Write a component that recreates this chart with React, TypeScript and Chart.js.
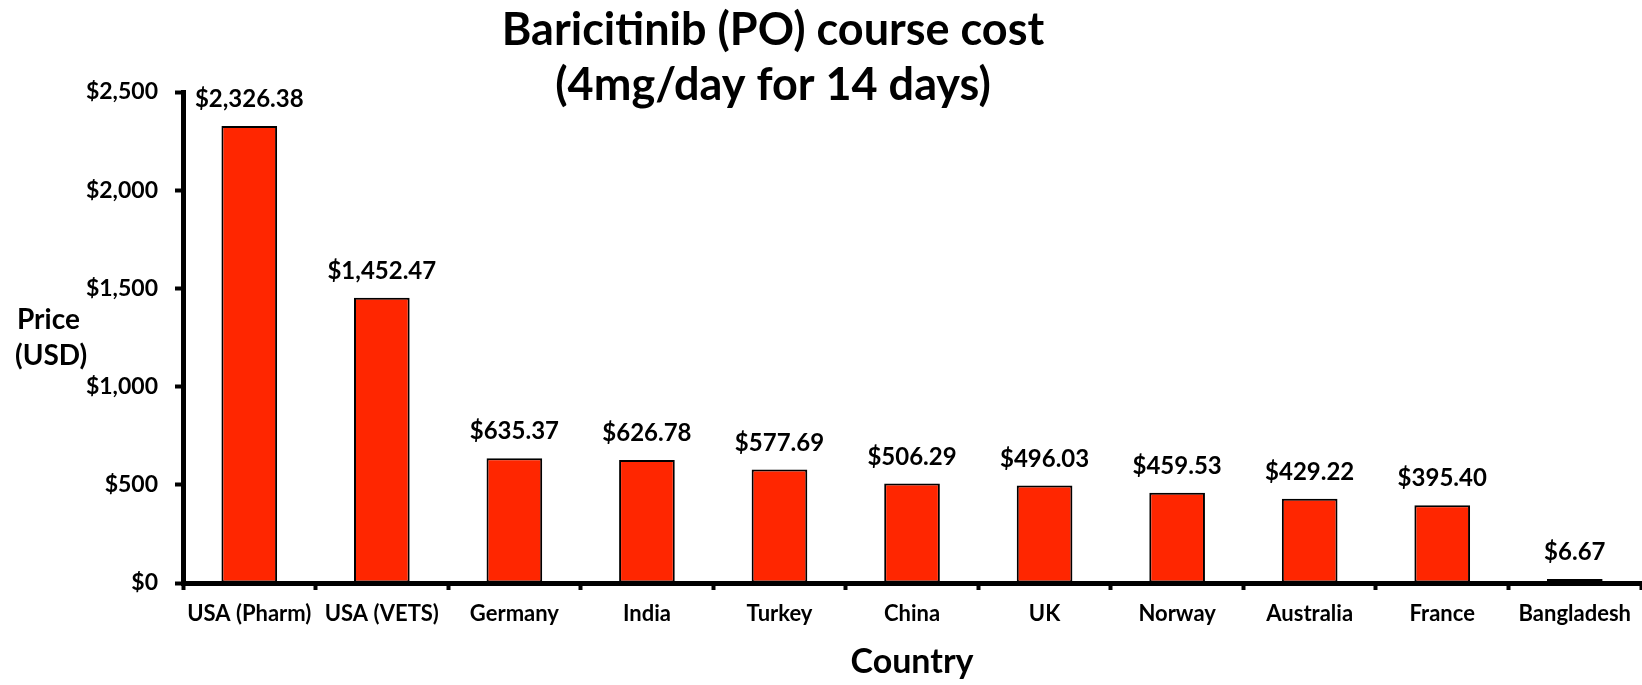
import React, { useEffect, useRef } from "react";
import { Chart, registerables } from "chart.js";

Chart.register(...registerables);

const categories = [
  "USA (Pharm)",
  "USA (VETS)",
  "Germany",
  "India",
  "Turkey",
  "China",
  "UK",
  "Norway",
  "Australia",
  "France",
  "Bangladesh",
];
const prices = [2326.38, 1452.47, 635.37, 626.78, 577.69, 506.29, 496.03, 459.53, 429.22, 395.4, 6.67];
const yTickValues = [0, 500, 1000, 1500, 2000, 2500];
const titleLines = ["Baricitinib (PO) course cost", "(4mg/day for 14 days)"];
const yTitleLines = ["Price", "(USD)"];
const xTitle = "Country";

const FONT = "Lato, 'Open Sans', sans-serif";
const W = 1642;
const H = 685;

const fmtMoney = (v: number) =>
  "$" + v.toLocaleString("en-US", { minimumFractionDigits: 2, maximumFractionDigits: 2 });
const fmtTick = (v: number) => "$" + v.toLocaleString("en-US");

const textPlugin = {
  id: "customText",
  afterDatasetsDraw(chart: any) {
    const ctx = chart.ctx;
    ctx.save();
    ctx.fillStyle = "#000";
    // data labels
    const meta = chart.getDatasetMeta(0);
    ctx.font = `bold 24px ${FONT}`;
    ctx.textAlign = "center";
    ctx.textBaseline = "alphabetic";
    meta.data.forEach((bar: any, i: number) => {
      ctx.fillText(fmtMoney(prices[i]), bar.x, bar.y - 19);
    });
    // main title
    ctx.font = `bold 45px ${FONT}`;
    ctx.textBaseline = "middle";
    ctx.fillText(titleLines[0], 773, 30);
    ctx.fillText(titleLines[1], 773, 85);
    // y title
    ctx.font = `bold 28px ${FONT}`;
    ctx.textAlign = "left";
    ctx.fillText(yTitleLines[0], 17, 320);
    ctx.fillText(yTitleLines[1], 15, 356);
    // x title
    const ca = chart.chartArea;
    ctx.font = `bold 34px ${FONT}`;
    ctx.textAlign = "center";
    ctx.fillText(xTitle, (ca.left + ca.right) / 2, 662);
    ctx.restore();
  },
};

export default function App() {
  const ref = useRef<HTMLCanvasElement | null>(null);
  useEffect(() => {
    if (!ref.current) return;
    const chart = new Chart(ref.current, {
      type: "bar",
      data: {
        labels: categories,
        datasets: [
          {
            data: prices,
            backgroundColor: "#FF2600",
            borderColor: "#000",
            borderWidth: 2,
            borderSkipped: false,
            barPercentage: 0.42,
            categoryPercentage: 1,
            minBarLength: 4,
          },
        ],
      },
      options: {
        animation: false,
        responsive: false,
        devicePixelRatio: 1,
        layout: { padding: { top: 92, left: 0, right: 0, bottom: 0 } },
        plugins: {
          legend: { display: false },
          tooltip: { enabled: false },
          title: { display: false },
        },
        scales: {
          x: {
            offset: true,
            grid: {
              display: true,
              drawOnChartArea: false,
              drawTicks: true,
              tickLength: 7,
              tickWidth: 4,
              tickColor: "#000",
              offset: true,
            },
            border: { display: true, color: "#000", width: 5 },
            ticks: {
              color: "#000",
              font: { family: FONT, size: 22, weight: "bold" },
              padding: 11,
              maxRotation: 0,
              autoSkip: false,
            },
            afterFit: (scale: any) => {
              scale.height = H - 583;
            },
          },
          y: {
            min: 0,
            max: 2500,
            afterBuildTicks: (scale: any) => {
              scale.ticks = yTickValues.map((v) => ({ value: v }));
            },
            grid: {
              display: true,
              drawOnChartArea: false,
              drawTicks: true,
              tickLength: 8,
              tickWidth: 4,
              tickColor: "#000",
            },
            border: { display: true, color: "#000", width: 5 },
            ticks: {
              color: "#000",
              font: { family: FONT, size: 23, weight: "bold" },
              padding: 17,
              callback: (v: any) => fmtTick(Number(v)),
            },
            afterFit: (scale: any) => {
              scale.width = 183;
            },
          },
        },
      },
      plugins: [textPlugin],
    });
    return () => chart.destroy();
  }, []);
  return (
    <div style={{ position: "absolute", left: 0, top: 0, width: W, height: H, background: "#fff" }}>
      <canvas ref={ref} width={W} height={H} style={{ display: "block", width: W, height: H }} />
    </div>
  );
}
